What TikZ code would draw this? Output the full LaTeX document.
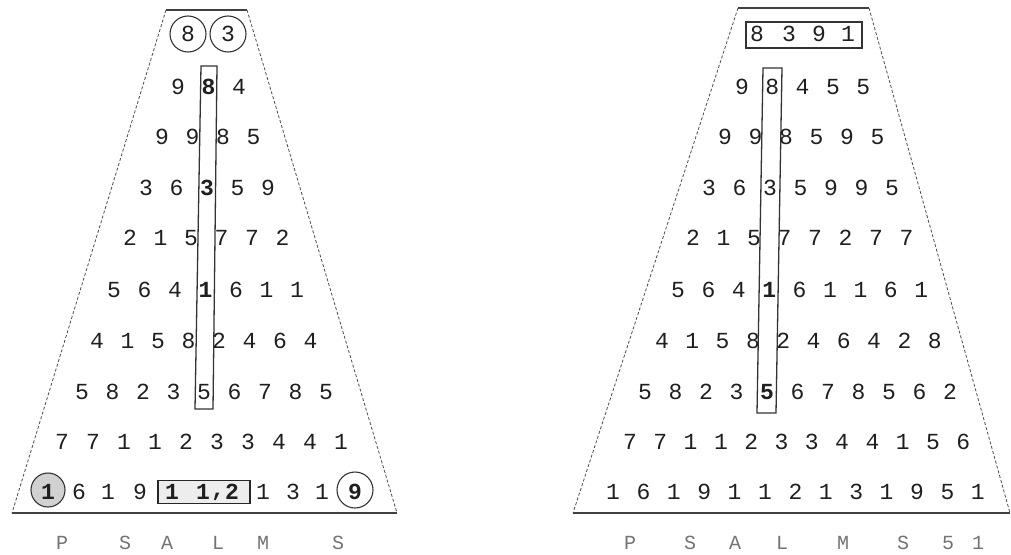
\documentclass[tikz,border=0pt]{standalone}
\usepackage{fontspec}
\setmonofont{Liberation Mono}
\begin{document}
\begin{tikzpicture}[x=1pt,y=-1pt,
  dig/.style={font=\ttfamily\fontsize{23}{23}\selectfont, text=black!88, inner sep=0pt, anchor=center},
  letter/.style={font=\ttfamily\fontsize{20}{20}\selectfont, text=black!55, inner sep=0pt, anchor=center},
  solidedge/.style={draw=black!75, line width=1.3pt},
  dashedge/.style={draw=black!70, line width=0.8pt, dash pattern=on 3pt off 2pt},
  column/.style={draw=black!80, line width=1.3pt},
  ring/.style={draw=black!80, line width=1.1pt, circle, inner sep=0pt, minimum size=36pt}
]
\useasboundingbox (0,0) rectangle (1011,554);

% ---------- left trapezoid ----------
\coordinate (LTL) at (166,10);
\coordinate (LTR) at (247,10);
\coordinate (LBL) at (12,513);
\coordinate (LBR) at (397,513);
\draw[solidedge] (LTL) -- (LTR);
\draw[solidedge] (LBL) -- (LBR);
\draw[dashedge] (LTL) -- (LBL);
\draw[dashedge] (LTR) -- (LBR);

% ---------- right trapezoid ----------
\coordinate (RTL) at (738,8);
\coordinate (RTR) at (869,8);
\coordinate (RBL) at (573,513);
\coordinate (RBR) at (1010,513);
\draw[solidedge] (RTL) -- (RTR);
\draw[solidedge] (RBL) -- (RBR);
\draw[dashedge] (RTL) -- (RBL);
\draw[dashedge] (RTR) -- (RBR);

% ---------- left top circles ----------
\node[ring] (Lc8) at (188,34) {};
\node[ring] (Lc3) at (228,34) {};
\node[dig] (L1-1) at (188,34) {8};
\node[dig] (L1-2) at (228,34) {3};

% ---------- left column box ----------
\draw[column] (201,66) -- (217,66) -- (213,409) -- (195,409) -- cycle;

% ---------- left rows ----------
\foreach \d [count=\i] in {9,{\textbf{8}},4}
  \node[dig] (L2-\i) at ({178+(\i-1)*30.5},87) {\d};
\foreach \d [count=\i] in {9,9,8,5}
  \node[dig] (L3-\i) at ({162+(\i-1)*30.5},137) {\d};
\foreach \d [count=\i] in {3,6,{\textbf{3}},5,9}
  \node[dig] (L4-\i) at ({146+(\i-1)*30.5},188) {\d};
\foreach \d [count=\i] in {2,1,5,7,7,2}
  \node[dig] (L5-\i) at ({130+(\i-1)*30.5},238) {\d};
\foreach \d [count=\i] in {5,6,4,{\textbf{1}},6,1,1}
  \node[dig] (L6-\i) at ({114+(\i-1)*30.5},290) {\d};
\foreach \d [count=\i] in {4,1,5,8,2,4,6,4}
  \node[dig] (L7-\i) at ({97+(\i-1)*30.5},341) {\d};
\foreach \d [count=\i] in {5,8,2,3,5,6,7,8,5}
  \node[dig] (L8-\i) at ({82+(\i-1)*30.5},392) {\d};
\foreach \d [count=\i] in {7,7,1,1,2,3,3,4,4,1}
  \node[dig] (L9-\i) at ({62+(\i-1)*31},442) {\d};

% ---------- left bottom row ----------
\node[ring, minimum size=34pt, fill=black!18] (Lc1) at (48,490) {};
\node[dig] (L10-1) at (48,492) {\textbf{1}};
\node[dig] (L10-2) at (79,492) {6};
\node[dig] (L10-3) at (108,492) {1};
\node[dig] (L10-4) at (140,492) {9};
\node[draw=black!85, line width=1.2pt, fill=black!7, inner sep=0pt, minimum width=92pt, minimum height=23pt] (Lbox) at (204,492) {};
\node[dig] (L10-5) at (172,492) {\textbf{1}};
\node[dig] (L10-6) at (203,492) {\textbf{1}};
\node[dig] (L10-c) at (218,497) {\textbf{,}};
\node[dig] (L10-7) at (232,492) {\textbf{2}};
\node[dig] (L10-8) at (263,492) {1};
\node[dig] (L10-9) at (293,492) {3};
\node[dig] (L10-10) at (322,492) {1};
\node[ring] (Lc9) at (355,490) {};
\node[dig] (L10-11) at (355,492) {\textbf{9}};

% ---------- left letters ----------
\foreach \t/\x [count=\i] in {P/62,S/125,A/167,L/218,M/263,S/338}
  \node[letter] (LL-\i) at (\x,543) {\t};

% ---------- right top box ----------
\node[draw=black!80, line width=1.1pt, inner sep=0pt, minimum width=116pt, minimum height=26pt] (Rbox) at (804,35) {};
\foreach \d/\x [count=\i] in {8/757,3/789,9/819,1/848}
  \node[dig] (R1-\i) at (\x,34) {\d};

% ---------- right column box ----------
\draw[column] (763,68) -- (782,68) -- (776,413) -- (757,413) -- cycle;

% ---------- right rows ----------
\foreach \d [count=\i] in {9,8,4,5,5}
  \node[dig] (R2-\i) at ({742+(\i-1)*30.3},87) {\d};
\foreach \d [count=\i] in {9,9,8,5,9,5}
  \node[dig] (R3-\i) at ({725+(\i-1)*30.5},137) {\d};
\foreach \d [count=\i] in {3,6,3,5,9,9,5}
  \node[dig] (R4-\i) at ({709+(\i-1)*30.5},188) {\d};
\foreach \d [count=\i] in {2,1,5,7,7,2,7,7}
  \node[dig] (R5-\i) at ({693+(\i-1)*30.5},238) {\d};
\foreach \d [count=\i] in {5,6,4,{\textbf{1}},6,1,1,6,1}
  \node[dig] (R6-\i) at ({678+(\i-1)*30.4},290) {\d};
\foreach \d [count=\i] in {4,1,5,8,2,4,6,4,2,8}
  \node[dig] (R7-\i) at ({662+(\i-1)*30.3},341) {\d};
\foreach \d [count=\i] in {5,8,2,3,{\textbf{5}},6,7,8,5,6,2}
  \node[dig] (R8-\i) at ({645+(\i-1)*30.5},392) {\d};
\foreach \d [count=\i] in {7,7,1,1,2,3,3,4,4,1,5,6}
  \node[dig] (R9-\i) at ({630+(\i-1)*30.3},442) {\d};
\foreach \d [count=\i] in {1,6,1,9,1,1,2,1,3,1,9,5,1}
  \node[dig] (R10-\i) at ({613+(\i-1)*30.4},492) {\d};

% ---------- right letters ----------
\foreach \t/\x [count=\i] in {P/630,S/690,A/735,L/782,M/843,S/903,5/948,1/978}
  \node[letter] (RL-\i) at (\x,543) {\t};
\end{tikzpicture}
\end{document}
